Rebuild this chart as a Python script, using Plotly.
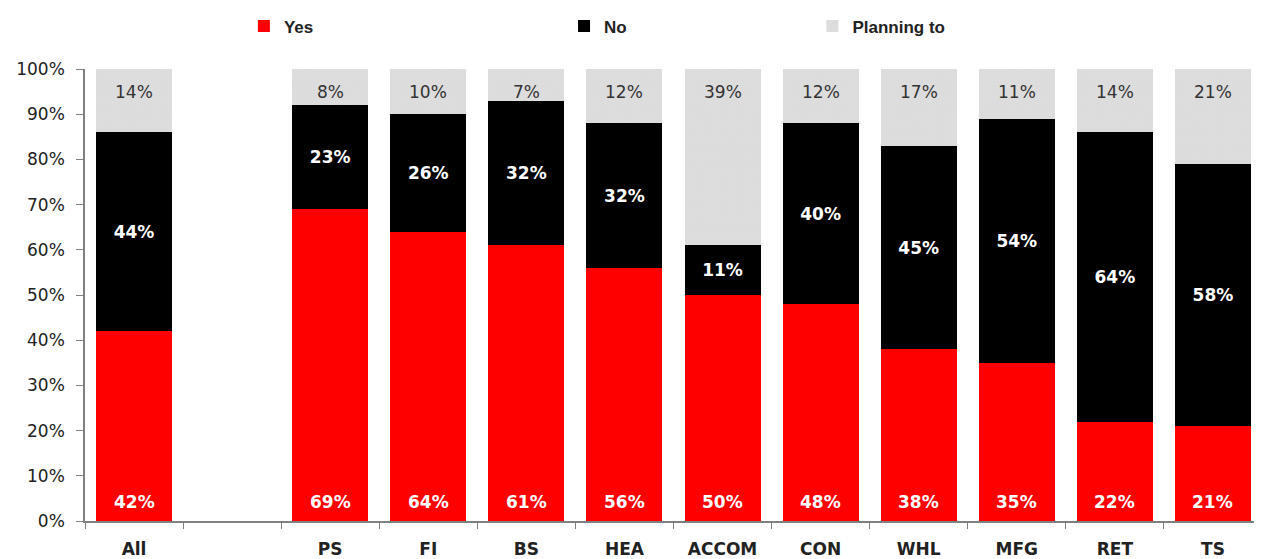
import plotly.graph_objects as go

categories = ["All", " ", "PS", "FI", "BS", "HEA", "ACCOM", "CON", "WHL", "MFG", "RET", "TS"]
yes_vals = [42, None, 69, 64, 61, 56, 50, 48, 38, 35, 22, 21]
no_vals = [44, None, 23, 26, 32, 32, 11, 40, 45, 54, 64, 58]
plan_vals = [14, None, 8, 10, 7, 12, 39, 12, 17, 11, 14, 21]
y_ticks = [0, 10, 20, 30, 40, 50, 60, 70, 80, 90, 100]
y_tick_text = [f"{t}%" for t in y_ticks]

FONT = "DejaVu Sans"

def labels(vals):
    return [f"{v}%" if v is not None else "" for v in vals]

fig = go.Figure()
fig.add_trace(go.Bar(
    name="Yes", x=categories, y=yes_vals, marker=dict(color="#ff0000", line=dict(width=0)),
    legend="legend",
))
fig.add_trace(go.Bar(
    name="No", x=categories, y=no_vals, marker=dict(color="#000000", line=dict(width=0)),
    text=labels(no_vals), textposition="inside", insidetextanchor="middle",
    textfont=dict(family=FONT, size=17, color="white", weight="bold"), textangle=0,
    legend="legend2",
))
fig.add_trace(go.Bar(
    name="Planning to", x=categories, y=plan_vals,
    marker=dict(color="#dcdcdc", line=dict(width=0),
                pattern=dict(shape="x", fgcolor="#cccccc", bgcolor="#dedede", size=3, solidity=0.25)),
    legend="legend3",
))

# Yes labels near the bar base, Planning labels near the bar top
for c, y, n, p in zip(categories, yes_vals, no_vals, plan_vals):
    if y is None:
        continue
    fig.add_annotation(x=c, y=0, text=f"{y}%", showarrow=False, yanchor="middle", yshift=19,
                       font=dict(family=FONT, size=17, color="white", weight="bold"))
    fig.add_annotation(x=c, y=y + n + p, text=f"{p}%", showarrow=False, yanchor="middle", yshift=-23,
                       font=dict(family=FONT, size=17, color="#333333"))

legend_common = dict(orientation="h", yanchor="middle", y=1.094, xanchor="left",
                     bgcolor="rgba(0,0,0,0)",
                     font=dict(family="Liberation Sans", size=17, color="#222222", weight="bold"))

fig.update_layout(
    barmode="stack",
    bargap=0.225,
    width=1254, height=551,
    margin=dict(l=77, r=0, t=57, b=38),
    plot_bgcolor="white", paper_bgcolor="white",
    font=dict(family=FONT, size=17, color="#222222"),
    showlegend=True,
    legend=dict(x=0.135, **legend_common),
    legend2=dict(x=0.407, **legend_common),
    legend3=dict(x=0.618, **legend_common),
    xaxis=dict(type="category", showline=True, linecolor="#808080", linewidth=1.5,
               ticks="outside", tickson="boundaries", ticklen=6, tickcolor="#808080",
               tickfont=dict(family=FONT, size=17, color="#222222", weight="bold"),
               ticklabelstandoff=12, showgrid=False, automargin=False),
    yaxis=dict(range=[0, 100], tickvals=y_ticks, ticktext=y_tick_text, showline=True,
               linecolor="#808080", linewidth=1.5, ticks="outside", ticklen=7,
               tickcolor="#808080", showgrid=False, zeroline=False, automargin=False,
               ticklabelstandoff=8,
               tickfont=dict(family=FONT, size=17, color="#222222")),
)

fig.write_html("out.html")
